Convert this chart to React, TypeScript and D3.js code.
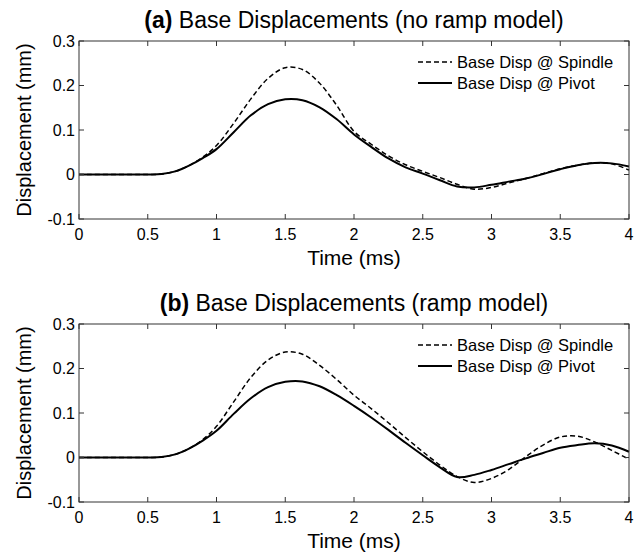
import React from "react";
import * as d3 from "d3";

const time = [0, 0.5, 0.6, 0.7, 0.8, 0.9, 1.0, 1.125, 1.25, 1.375, 1.5, 1.625, 1.75, 1.875, 2.0, 2.125, 2.25, 2.375, 2.5, 2.625, 2.75, 2.875, 3.0, 3.125, 3.25, 3.375, 3.5, 3.625, 3.75, 3.875, 4.0];

const aSpindle = [0, 0, 0.001, 0.007, 0.02, 0.039, 0.065, 0.115, 0.17, 0.216, 0.24, 0.236, 0.205, 0.155, 0.097, 0.068, 0.042, 0.022, 0.007, -0.007, -0.022, -0.033, -0.029, -0.019, -0.009, 0.002, 0.013, 0.021, 0.026, 0.024, 0.01];
const aPivot = [0, 0, 0.001, 0.007, 0.02, 0.037, 0.057, 0.095, 0.133, 0.158, 0.169, 0.167, 0.151, 0.124, 0.09, 0.062, 0.036, 0.016, 0.002, -0.013, -0.027, -0.029, -0.023, -0.016, -0.009, 0.001, 0.012, 0.021, 0.026, 0.025, 0.018];

const bSpindle = [0, 0, 0.001, 0.007, 0.02, 0.04, 0.07, 0.125, 0.18, 0.219, 0.237, 0.232, 0.207, 0.175, 0.14, 0.11, 0.078, 0.045, 0.013, -0.017, -0.043, -0.056, -0.047, -0.027, 0.002, 0.028, 0.046, 0.048, 0.035, 0.016, -0.004];
const bPivot = [0, 0, 0.001, 0.007, 0.02, 0.038, 0.06, 0.098, 0.133, 0.158, 0.17, 0.171, 0.16, 0.14, 0.116, 0.09, 0.062, 0.033, 0.005, -0.022, -0.044, -0.039, -0.028, -0.015, -0.002, 0.01, 0.022, 0.028, 0.032, 0.027, 0.013];

const xTicks = [0, 0.5, 1, 1.5, 2, 2.5, 3, 3.5, 4];
const yTicks = [-0.1, 0, 0.1, 0.2, 0.3];
const panelTitles = [["(a)", " Base Displacements (no ramp model)"], ["(b)", " Base Displacements (ramp model)"]];
const legendLabels = ["Base Disp @ Spindle", "Base Disp @ Pivot"];
const xLabel = "Time (ms)";
const yLabel = "Displacement (mm)";

const FONT = "'Liberation Sans', Arial, Helvetica, sans-serif";

const left = 79, right = 629;
const panelTops = [41, 324];
const plotH = 178;

function Panel({ top, title, spindle, pivot }: { top: number; title: string[]; spindle: number[]; pivot: number[] }) {
  const x = d3.scaleLinear().domain([0, 4]).range([left, right]);
  const y = d3.scaleLinear().domain([-0.1, 0.3]).range([top + plotH, top]);
  const line = d3
    .line<number>()
    .x((_, i) => x(time[i]))
    .y((d) => y(d))
    .curve(d3.curveCatmullRom.alpha(0.5));
  const tl = 5;
  const axisColor = "#333";
  const cx = (left + right) / 2;
  return (
    <g fontFamily={FONT}>
      <text x={cx} y={top - 13} textAnchor="middle" fontSize={23} fill="#000">
        <tspan fontWeight="bold">{title[0]}</tspan>
        <tspan>{title[1]}</tspan>
      </text>
      <path d={line(spindle) || ""} fill="none" stroke="#000" strokeWidth={1.5} strokeDasharray="5,3" />
      <path d={line(pivot) || ""} fill="none" stroke="#000" strokeWidth={2} />
      <rect x={left} y={top} width={right - left} height={plotH} fill="none" stroke={axisColor} strokeWidth={1} />
      {xTicks.map((t) => (
        <g key={"x" + t}>
          <line x1={x(t)} x2={x(t)} y1={top + plotH} y2={top + plotH - tl} stroke={axisColor} />
          <line x1={x(t)} x2={x(t)} y1={top} y2={top + tl} stroke={axisColor} />
          <text x={x(t)} y={top + plotH + 21} textAnchor="middle" fontSize={16} fill="#000">
            {String(t)}
          </text>
        </g>
      ))}
      {yTicks.map((t) => (
        <g key={"y" + t}>
          <line x1={left} x2={left + tl} y1={y(t)} y2={y(t)} stroke={axisColor} />
          <line x1={right} x2={right - tl} y1={y(t)} y2={y(t)} stroke={axisColor} />
          <text x={left - 4} y={y(t) + 5.5} textAnchor="end" fontSize={16} fill="#000">
            {String(Math.round(t * 10) / 10)}
          </text>
        </g>
      ))}
      <text x={cx} y={top + plotH + 46} textAnchor="middle" fontSize={21} fill="#000">
        {xLabel}
      </text>
      <text
        transform={`translate(31, ${top + plotH / 2}) rotate(-90)`}
        textAnchor="middle"
        fontSize={20}
        fill="#000"
      >
        {yLabel}
      </text>
      <g>
        <line x1={418} x2={452} y1={top + 21} y2={top + 21} stroke="#000" strokeWidth={1.5} strokeDasharray="5,3" />
        <text x={457} y={top + 27} fontSize={16.5} fill="#000">{legendLabels[0]}</text>
        <line x1={418} x2={452} y1={top + 42} y2={top + 42} stroke="#000" strokeWidth={2} />
        <text x={457} y={top + 48} fontSize={16.5} fill="#000">{legendLabels[1]}</text>
      </g>
    </g>
  );
}

export default function App() {
  return (
    <svg width={640} height={553} style={{ position: "absolute", left: 0, top: 0, background: "#fff" }}>
      <rect width={640} height={553} fill="#fff" />
      <Panel top={panelTops[0]} title={panelTitles[0]} spindle={aSpindle} pivot={aPivot} />
      <Panel top={panelTops[1]} title={panelTitles[1]} spindle={bSpindle} pivot={bPivot} />
    </svg>
  );
}
